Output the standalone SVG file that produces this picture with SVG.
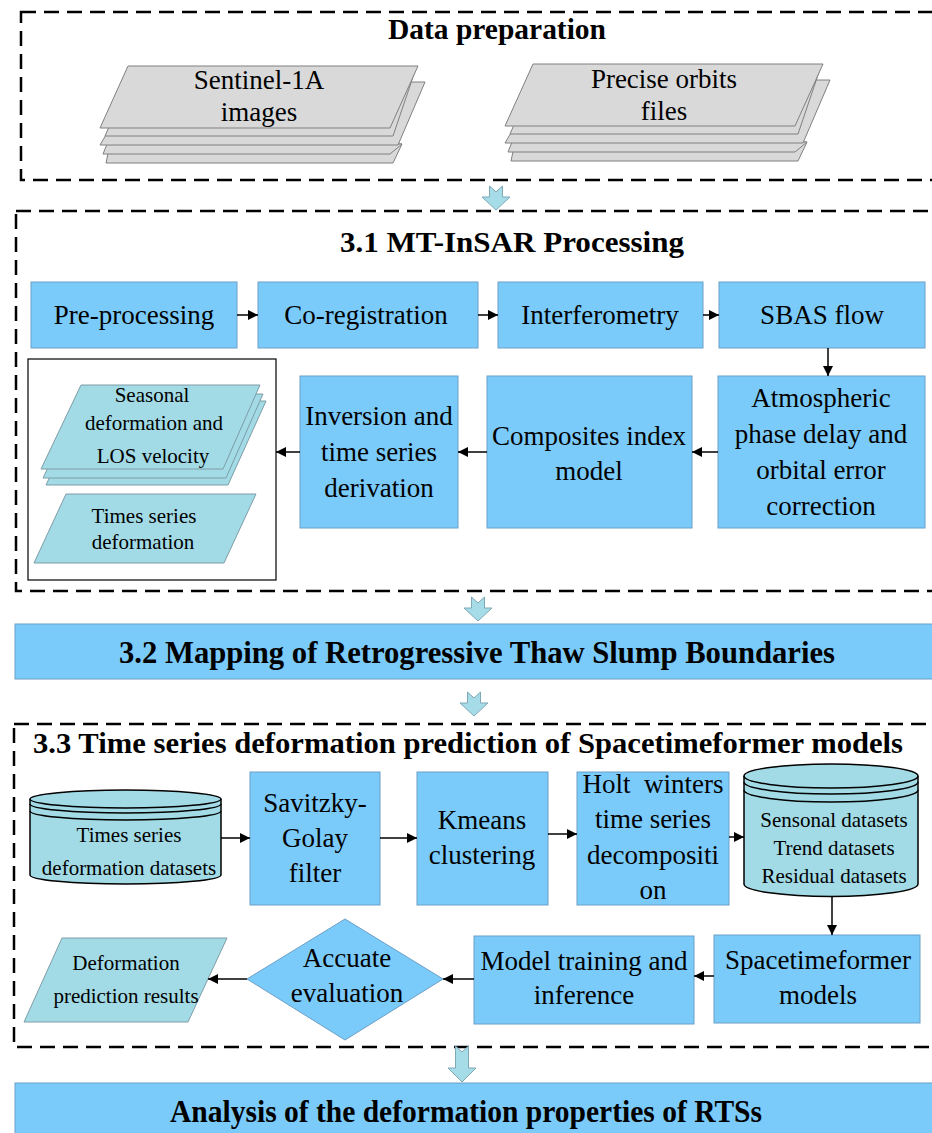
<svg xmlns="http://www.w3.org/2000/svg" width="932" height="1133" viewBox="0 0 932 1133">
<style>
text{font-family:"Liberation Serif","Times New Roman",serif;fill:#000;text-anchor:middle}
.t{font-size:27px}
.s{font-size:21px}
.h{font-size:30px;font-weight:bold}
.dash{fill:none;stroke:#000;stroke-width:2.5;stroke-dasharray:15 8}
.box{fill:#7BCBFA;stroke:#6A9FC6;stroke-width:1}
.sheet{fill:#D9D9D9;stroke:#808080;stroke-width:1}
.para{fill:#A2DBE6;stroke:#7E9CA6;stroke-width:1}
.cyl{fill:#A2DBE6;stroke:#000;stroke-width:1.5}
.big{fill:#A5DCE8;stroke:#7FA8B5;stroke-width:1}
.c{fill:none;stroke:#000;stroke-width:1.5;marker-end:url(#ah)}
</style>
<defs>
<marker id="ah" markerUnits="userSpaceOnUse" markerWidth="12" markerHeight="10" refX="10" refY="5" orient="auto">
<path d="M0,0 L10,5 L0,10 Z" fill="#000"/>
</marker>
<path id="bigarrow" d="M-6.5,0 L0,6 L6.5,0 L6.5,11 L14,11 L0,24 L-14,11 L-6.5,11 Z"/>
<g id="stack">
<polygon class="sheet" points="110,144 402,144 393,163 106,163"/>
<polygon class="sheet" points="107,144 402,144 390,154 103,154"/>
<polygon class="sheet" points="137,82 425,82 398,145 100,145"/>
<polygon class="sheet" points="132,74 414,74 393,136 105,136"/>
<polygon class="sheet" points="128,66 418,66 390,128 100,128"/>
</g>
</defs>

<g id="data-preparation">
<rect class="dash" x="21" y="12" width="930" height="168"/>
<text class="h" x="497" y="39" textLength="218" lengthAdjust="spacingAndGlyphs">Data preparation</text>
</g>
<g id="sentinel">
<use href="#stack"/>
<text class="t" x="259" y="89">Sentinel-1A</text>
<text class="t" x="259" y="121">images</text>
</g>
<g id="orbits">
<use href="#stack" transform="translate(405,-2)"/>
<text class="t" x="664" y="88">Precise orbits</text>
<text class="t" x="664" y="120">files</text>
</g>

<g id="mtinsar">
<rect class="dash" x="16" y="211" width="940" height="380"/>
<text class="h" x="512" y="252" textLength="344" lengthAdjust="spacingAndGlyphs">3.1 MT-InSAR Processing</text>
</g>
<g id="preprocessing"><rect class="box" x="31" y="282" width="206" height="66"/><text class="t" x="134" y="324">Pre-processing</text></g>
<g id="coregistration"><rect class="box" x="258" y="282" width="220" height="66"/><text class="t" x="366" y="324">Co-registration</text></g>
<g id="interferometry"><rect class="box" x="498" y="282" width="205" height="66"/><text class="t" x="600" y="324">Interferometry</text></g>
<g id="sbas"><rect class="box" x="719" y="282" width="206" height="66"/><text class="t" x="822" y="324">SBAS flow</text></g>
<g id="atmospheric"><rect class="box" x="718" y="376" width="207" height="152"/>
<text class="t" x="821" y="407">Atmospheric</text><text class="t" x="821" y="443">phase delay and</text><text class="t" x="821" y="479">orbital error</text><text class="t" x="821" y="515">correction</text></g>
<g id="composites"><rect class="box" x="487" y="376" width="205" height="152"/>
<text class="t" x="589" y="445">Composites index</text><text class="t" x="589" y="480">model</text></g>
<g id="inversion"><rect class="box" x="300" y="376" width="158" height="152"/>
<text class="t" x="379" y="425">Inversion and</text><text class="t" x="379" y="461">time series</text><text class="t" x="379" y="497">derivation</text></g>
<g id="outputs">
<rect x="28" y="359" width="248" height="221" fill="#fff" stroke="#000" stroke-width="1.2"/>
<polygon class="para" points="86,401 266,401 228,485 46,485"/>
<polygon class="para" points="83,394 263,394 226,478 43,478"/>
<polygon class="para" points="81,385 260,385 223,469 41,469"/>
<text class="s" x="152" y="402">Seasonal</text>
<text class="s" x="154" y="430">deformation and</text>
<text class="s" x="153" y="463">LOS velocity</text>
<polygon class="para" points="66,494 256,494 224,563 34,563"/>
<text class="s" x="144" y="523">Times series</text>
<text class="s" x="143" y="549">deformation</text>
</g>

<g id="mapping">
<rect class="box" x="15" y="624" width="930" height="55"/>
<text x="477" y="663" style="font-size:32px;font-weight:bold" textLength="716" lengthAdjust="spacingAndGlyphs">3.2 Mapping of Retrogressive Thaw Slump Boundaries</text>
</g>

<g id="prediction">
<rect class="dash" x="14" y="724" width="940" height="323"/>
<text class="h" x="468" y="753" textLength="870" lengthAdjust="spacingAndGlyphs">3.3 Time series deformation prediction of Spacetimeformer models</text>
</g>
<g id="ts-datasets">
<path class="cyl" d="M30,799 L30,875 A95.5,9 0 0 0 221,875 L221,799 A95.5,9 0 0 0 30,799 Z"/>
<path d="M30,799 A95.5,9 0 0 0 221,799 M30,804 A95.5,9 0 0 0 221,804 M30,811 A95.5,9 0 0 0 221,811" fill="none" stroke="#000" stroke-width="1.5"/>
<text class="s" x="129" y="842">Times series</text>
<text class="s" x="129" y="875">deformation datasets</text>
</g>
<g id="savitzky"><rect class="box" x="250" y="772" width="130" height="133"/>
<text class="t" x="315" y="812">Savitzky-</text><text class="t" x="315" y="847">Golay</text><text class="t" x="315" y="882">filter</text></g>
<g id="kmeans"><rect class="box" x="417" y="772" width="131" height="133"/>
<text class="t" x="482" y="829">Kmeans</text><text class="t" x="482" y="864">clustering</text></g>
<g id="holt"><rect class="box" x="577" y="772" width="152" height="133"/>
<text class="t" x="653" y="793" xml:space="preserve">Holt  winters</text><text class="t" x="653" y="828">time series</text><text class="t" x="653" y="864">decompositi</text><text class="t" x="653" y="899">on</text></g>
<g id="decomposed-datasets">
<path class="cyl" d="M744,776 L744,884 A87,12.5 0 0 0 918,884 L918,776 A87,12 0 0 0 744,776 Z"/>
<path d="M744,776 A87,12 0 0 0 918,776 M744,782 A87,12 0 0 0 918,782 M744,790 A87,12 0 0 0 918,790" fill="none" stroke="#000" stroke-width="1.5"/>
<text class="s" x="834" y="827">Sensonal datasets</text>
<text class="s" x="834" y="855">Trend datasets</text>
<text class="s" x="834" y="883">Residual datasets</text>
</g>
<g id="spacetimeformer"><rect class="box" x="714" y="935" width="206" height="88"/>
<text class="t" x="818" y="969">Spacetimeformer</text><text class="t" x="818" y="1004">models</text></g>
<g id="training"><rect class="box" x="474" y="936" width="220" height="88"/>
<text class="t" x="584" y="970">Model training and</text><text class="t" x="584" y="1004">inference</text></g>
<g id="evaluation"><polygon class="box" points="345,919 443,979 345,1040 247,979"/>
<text class="t" x="347" y="967">Accuate</text><text class="t" x="347" y="1002">evaluation</text></g>
<g id="results"><polygon class="para" points="62,938 227,938 188,1022 24,1022"/>
<text class="s" x="126" y="970">Deformation</text><text class="s" x="126" y="1003">prediction results</text></g>

<g id="analysis">
<rect class="box" x="15" y="1083" width="930" height="60"/>
<text x="466" y="1122" style="font-size:32px;font-weight:bold" textLength="592" lengthAdjust="spacingAndGlyphs">Analysis of the deformation properties of RTSs</text>
</g>

<g id="connectors">
<use href="#bigarrow" class="big" transform="translate(496,186)"/>
<use href="#bigarrow" class="big" transform="translate(478,597)"/>
<use href="#bigarrow" class="big" transform="translate(474,692)"/>
<path class="big" d="M455.5,1046 L462,1052 L468.5,1046 L468.5,1068 L476,1068 L462,1082 L448,1068 L455.5,1068 Z"/>
<path class="c" d="M237,315 L258,315"/>
<path class="c" d="M478,315 L498,315"/>
<path class="c" d="M703,315 L719,315"/>
<path class="c" d="M828,348 L828,376"/>
<path class="c" d="M718,452 L692,452"/>
<path class="c" d="M487,452 L458,452"/>
<path class="c" d="M300,452 L276,452"/>
<path class="c" d="M221,838 L250,838"/>
<path class="c" d="M380,838 L417,838"/>
<path class="c" d="M548,834 L577,834"/>
<path class="c" d="M729,837 L744,837"/>
<path class="c" d="M832,897 L832,935"/>
<path class="c" d="M714,976 L694,976"/>
<path class="c" d="M474,979 L443,979"/>
<path class="c" d="M247,979 L208,979"/>
</g>
</svg>
